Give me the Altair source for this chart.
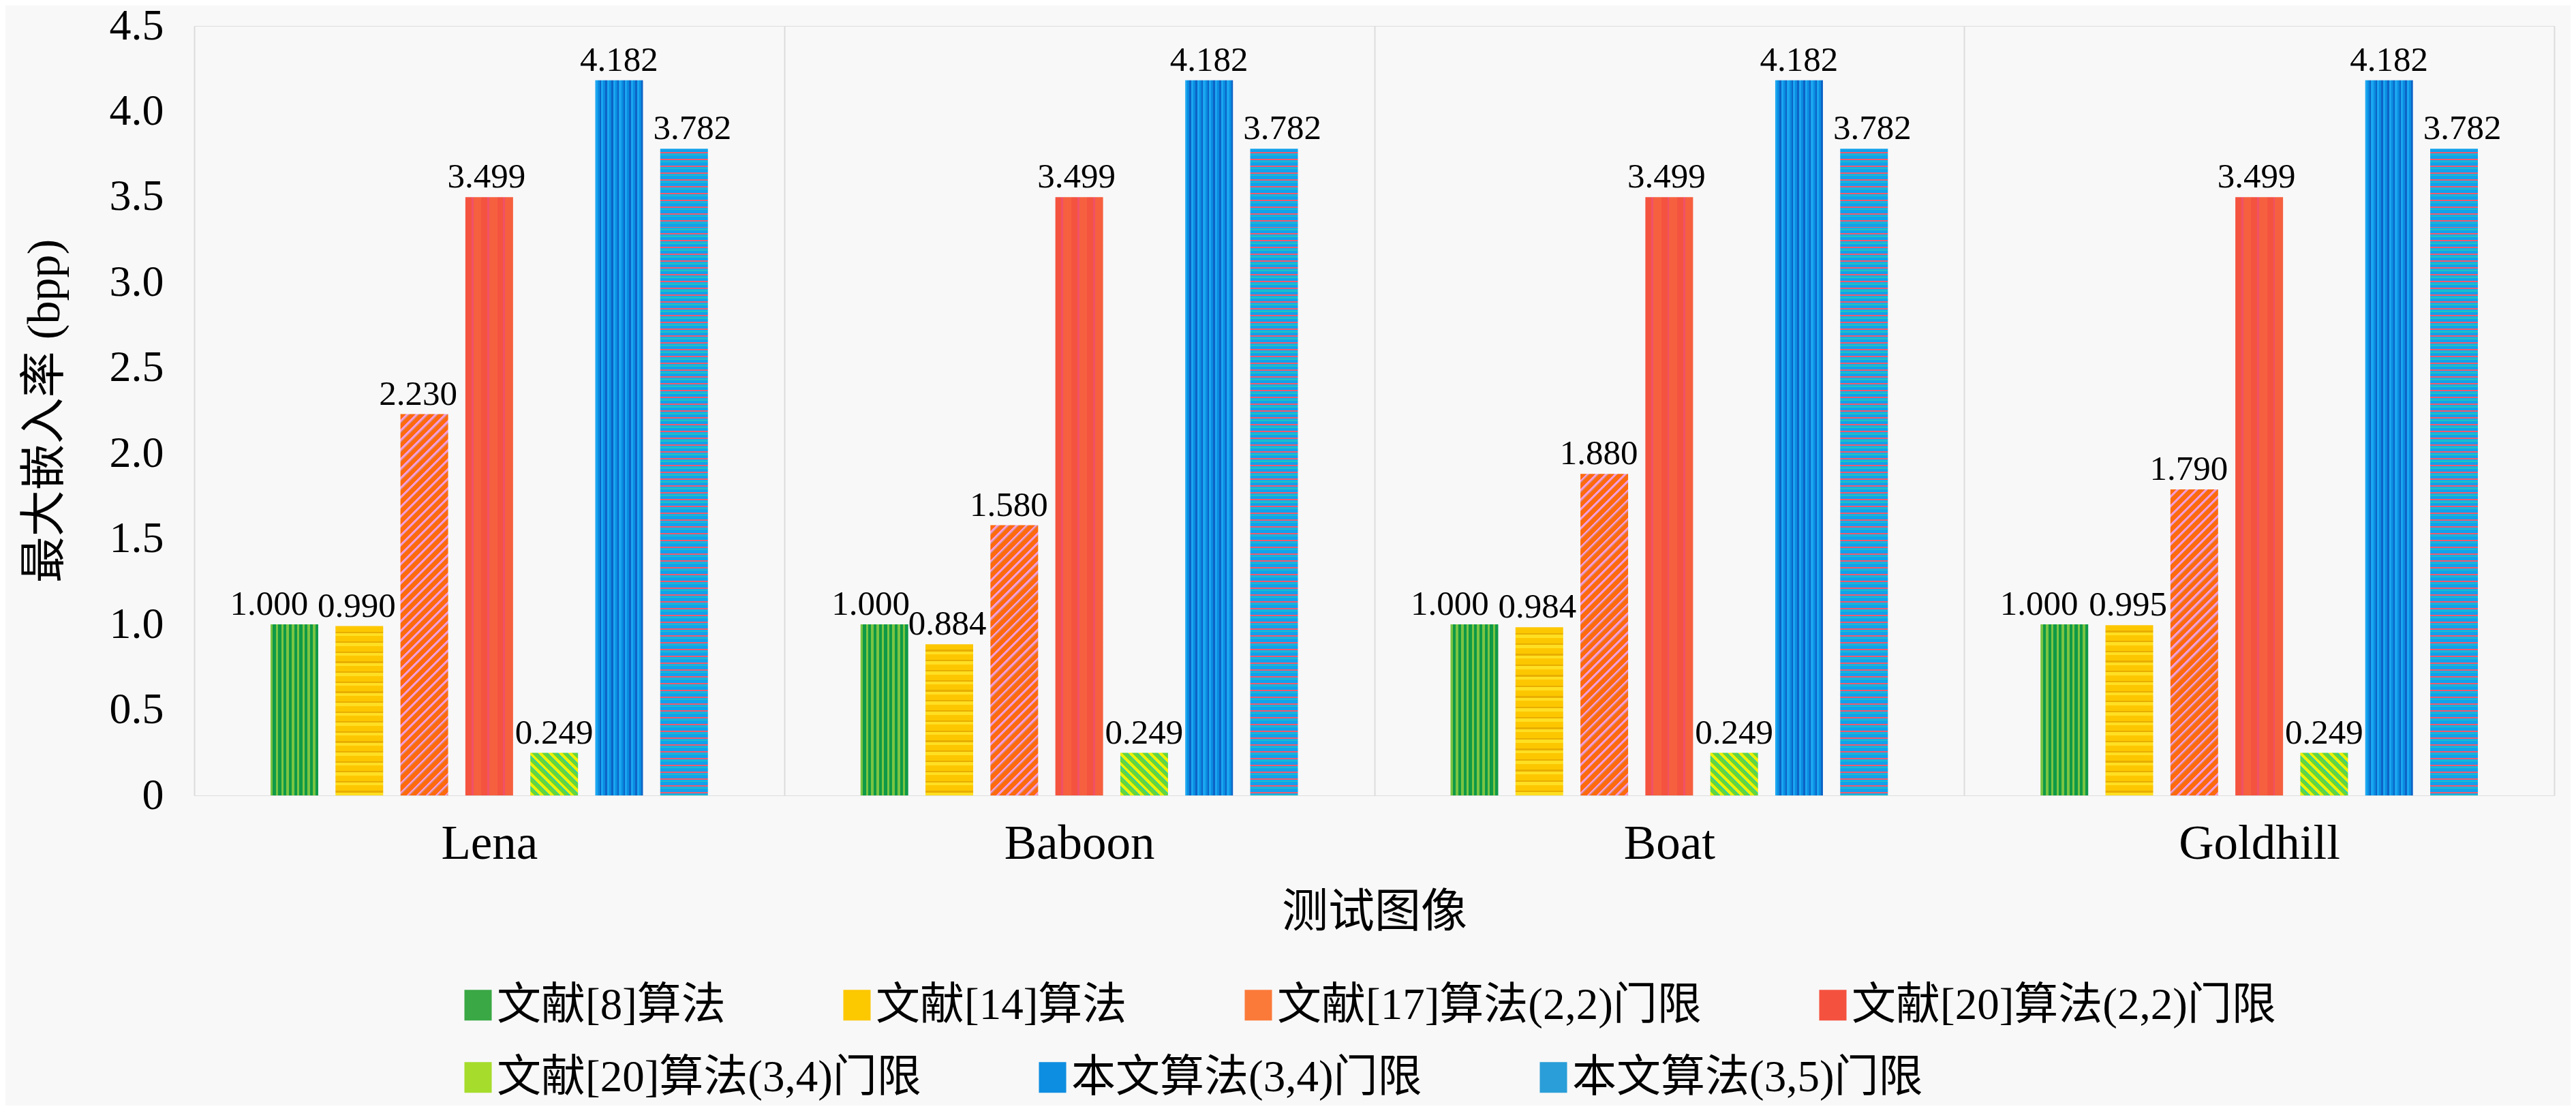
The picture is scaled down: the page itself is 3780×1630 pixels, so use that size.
import altair as alt
import pandas as pd

# ---------------- data ----------------
groups = ["Lena", "Baboon", "Boat", "Goldhill"]
series = ["文献[8]算法", "文献[14]算法", "文献[17]算法(2,2)门限", "文献[20]算法(2,2)门限",
          "文献[20]算法(3,4)门限", "本文算法(3,4)门限", "本文算法(3,5)门限"]
ref8 = [1.000, 1.000, 1.000, 1.000]
ref14 = [0.990, 0.884, 0.984, 0.995]
ref17_22 = [2.230, 1.580, 1.880, 1.790]
ref20_22 = [3.499, 3.499, 3.499, 3.499]
ref20_34 = [0.249, 0.249, 0.249, 0.249]
ours_34 = [4.182, 4.182, 4.182, 4.182]
ours_35 = [3.782, 3.782, 3.782, 3.782]
all_vals = [ref8, ref14, ref17_22, ref20_22, ref20_34, ours_34, ours_35]
y_ticks = [0, 0.5, 1.0, 1.5, 2.0, 2.5, 3.0, 3.5, 4.0, 4.5]

rows = []
bid = 0
for gi, g in enumerate(groups):
    for si, s in enumerate(series):
        rows.append({"group": g, "series": s, "value": all_vals[si][gi], "bid": bid,
                     "si": si, "gi": gi})
        bid += 1
df = pd.DataFrame(rows)

# ---------------- style ----------------
SERIF = "Liberation Serif, Noto Sans CJK SC"
PLOT_W, PLOT_H = 3463, 1129
YMAX = 4.5
PAD_IN, PAD_OUT = 0.2655, 1.175
group_w = PLOT_W / len(groups)
step = group_w / (len(series) - PAD_IN + 2 * PAD_OUT)
BAR_W = step * (1 - PAD_IN)
OFF = step * PAD_OUT

# horizontal nudges of the value labels (style), per series then per group
LABEL_DX = {0: [-37, -20, -36, -37], 1: [-4, -3, -3, -2], 2: [-9, -8, -8, -8],
            3: [-4, -4, -4, -4], 4: [0, 0, 0, 0], 5: [0, 0, 0, 0], 6: [12, 12, 12, 12]}

legend_colors = ["#3aa845", "#fcc800", "#fb7a3a", "#f4523f", "#a6dc2c", "#0e8ee0", "#2a9ed8"]


def band_stops(pattern, n):
    stops = []
    for k in range(n):
        cum = 0.0
        for c, f in pattern:
            a = round((k + cum) / n, 5)
            b = round((k + cum + f) / n, 5)
            stops.append({"offset": a, "color": c})
            stops.append({"offset": b, "color": c})
            cum += f
    return stops


def vertical(pattern, n):
    return {"gradient": "linear", "x1": 0, "y1": 0, "x2": 1, "y2": 0, "stops": band_stops(pattern, n)}


def horizontal(pattern, h, period):
    n = max(1, int(round(h / period)))
    return {"gradient": "linear", "x1": 0, "y1": 0, "x2": 0, "y2": 1, "stops": band_stops(pattern, n)}


def diagonal(pattern, h, period, up=True):
    w = BAR_W
    r = w / h
    k = (r + 1) / (r * r + 1)
    n = max(1, int(round((w + h) / period)))
    if up:   # "/" stripes
        return {"gradient": "linear", "x1": 0, "y1": 0, "x2": r * k, "y2": k,
                "stops": band_stops(pattern, n)}
    return {"gradient": "linear", "x1": 0, "y1": 1, "x2": r * k, "y2": 1 - k,
            "stops": band_stops(pattern, n)}


def fill_for(si, v):
    h = v / YMAX * PLOT_H
    if si == 0:
        return vertical([("#7ac443", 0.45), ("#0f9a47", 0.55)], 9)
    if si == 1:
        return horizontal([("#fdc700", 0.55), ("#e8ae00", 0.15), ("#ffdf22", 0.30)], h, 15)
    if si == 2:
        return diagonal([("#fe6a0e", 0.62), ("#f79ad6", 0.26), ("#d88a70", 0.12)], h, 14, up=True)
    if si == 3:
        return vertical([("#f4533f", 0.38), ("#f15068", 0.12), ("#f6603f", 0.5)], 3)
    if si == 4:
        return diagonal([("#eef200", 0.4), ("#66d63c", 0.45), ("#34cf9a", 0.15)], h, 15, up=False)
    if si == 5:
        return vertical([("#1aa6f0", 0.35), ("#0a8ce0", 0.35), ("#0d63c6", 0.30)], 8)
    return horizontal([("#10a2ec", 0.45), ("#ef5a6e", 0.2), ("#14aee8", 0.2), ("#22c2c0", 0.15)], h, 10)


def legend_def(x, y):
    return alt.Legend(title=None, orient="none", legendX=x, legendY=y,
                      direction="horizontal", columnPadding=142, padding=0,
                      symbolType="M-0.09,-1H1.69V1H-0.09Z", symbolSize=2025,
                      symbolStrokeWidth=0, symbolOpacity=1, symbolOffset=0,
                      labelOffset=13, labelFontSize=65, labelFont=SERIF,
                      labelLimit=3000, labelColor="black")


# ---------------- chart ----------------
x_enc = alt.X("group:N", sort=groups,
              scale=alt.Scale(paddingInner=0, paddingOuter=0),
              axis=alt.Axis(title="测试图像", labelAngle=0, ticks=False, domain=False,
                            grid=True, gridColor="#dcdcdc", gridWidth=2, tickBand="extent",
                            labelFontSize=71, labelPadding=36, labelLimit=1000,
                            titleFontSize=68, titlePadding=32,
                            labelColor="black", titleColor="black", titleFontWeight="normal"))
xo_enc = alt.XOffset("series:N", sort=series,
                     scale=alt.Scale(paddingInner=PAD_IN, paddingOuter=0,
                                     range=[OFF, group_w - OFF]))
y_enc = alt.Y("value:Q", scale=alt.Scale(domain=[0, YMAX], nice=False, zero=True),
              axis=alt.Axis(title="最大嵌入率 (bpp)", values=y_ticks, ticks=False, domain=False,
                            grid=False, labelFontSize=64, labelPadding=45,
                            labelExpr="datum.value == 0 ? '0' : format(datum.value, '.1f')",
                            titleFontSize=68, titlePadding=60, labelColor="black",
                            titleColor="black", titleFontWeight="normal"))

base = alt.Chart(df).encode(x=x_enc, xOffset=xo_enc, y=y_enc)

layers = []
# invisible layers that carry the two legend rows
layers.append(
    base.transform_filter(alt.datum.si < 4).mark_bar(opacity=0).encode(
        fill=alt.Fill("series:N", scale=alt.Scale(domain=series[:4], range=legend_colors[:4]),
                      legend=legend_def(366, 1404)))
)
layers.append(
    base.transform_filter(alt.datum.si >= 4).mark_bar(opacity=0).encode(
        color=alt.Color("series:N", scale=alt.Scale(domain=series[4:], range=legend_colors[4:]),
                        legend=legend_def(366, 1510)))
)
for r in rows:
    layers.append(
        base.transform_filter(alt.datum.bid == r["bid"]).mark_bar(
            color=fill_for(r["si"], r["value"]), strokeWidth=0)
    )
for r in rows:
    layers.append(
        base.transform_filter(alt.datum.bid == r["bid"]).mark_text(
            dy=-14, dx=LABEL_DX[r["si"]][r["gi"]], baseline="alphabetic", fontSize=51,
            font=SERIF, color="black")
        .encode(text=alt.Text("value:Q", format=".3f"))
    )

chart = alt.layer(*layers).properties(
    width=PLOT_W, height=PLOT_H,
    autosize=alt.AutoSizeParams(type="none"),
    padding={"left": 277, "top": 30, "right": 24, "bottom": 455},
    background="#f8f8f8",
).configure_view(stroke="black", strokeWidth=3.5).configure(font=SERIF)

chart.save("out.html", embed_options={"renderer": "svg", "actions": False})
